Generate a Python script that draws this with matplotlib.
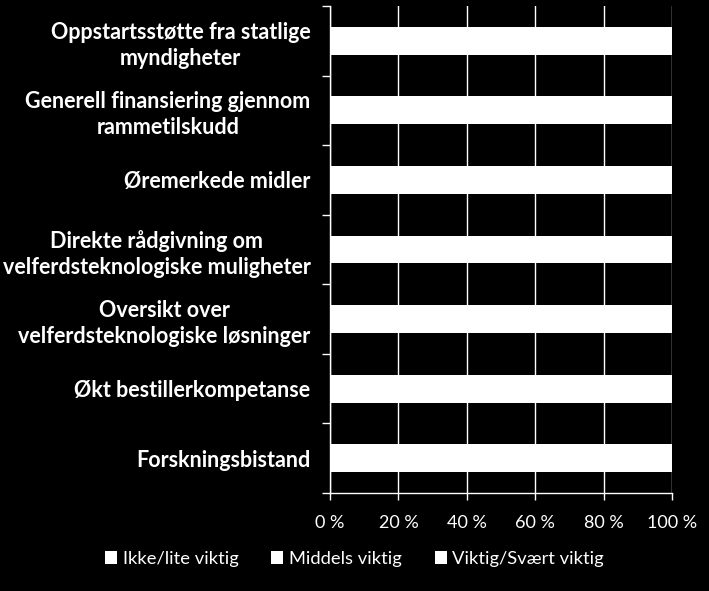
import numpy as np
import matplotlib
matplotlib.use('Agg')
from matplotlib import pyplot as plt
from matplotlib.ticker import MultipleLocator, FuncFormatter

plt.rcParams['font.family'] = ['Lato', 'DejaVu Sans']

categories = [
    'Oppstartsstøtte fra statlige\nmyndigheter',
    'Generell finansiering gjennom\nrammetilskudd',
    'Øremerkede midler',
    'Direkte rådgivning om\nvelferdsteknologiske muligheter',
    'Oversikt over\nvelferdsteknologiske løsninger',
    'Økt bestillerkompetanse',
    'Forskningsbistand',
]
series_names = ['Ikke/lite viktig', 'Middels viktig', 'Viktig/Svært viktig']
# segments are drawn in white on white, so the split is estimated
ikke_lite = [8, 6, 10, 12, 10, 18, 25]
middels = [22, 20, 25, 30, 32, 35, 40]
viktig = [70, 74, 65, 58, 58, 47, 35]
series = [ikke_lite, middels, viktig]
colors = ['white', 'white', 'white']

fig = plt.figure(figsize=(7.09, 5.91), dpi=100, facecolor='black')
ax = fig.add_axes([330 / 709, 1 - 493 / 591, 342 / 709, 487 / 591])
ax.set_facecolor('black')

y = np.arange(len(categories))
left = np.zeros(len(categories))
for vals, name, col in zip(series, series_names, colors):
    ax.barh(y, vals, left=left, height=0.4, color=col, label=name, zorder=3)
    left += np.array(vals)

ax.set_xlim(0, 100)
ax.set_ylim(len(categories) - 0.5, -0.5)
ax.xaxis.set_major_locator(MultipleLocator(20))
ax.xaxis.set_major_formatter(FuncFormatter(lambda v, p: f'{int(v)} %'))
ax.grid(axis='x', color='white', linewidth=1.0, zorder=1)

ax.set_yticks(y)
ax.set_yticklabels(categories, fontweight='bold', fontsize=15.5, color='white',
                   linespacing=1.3)
for t in ax.get_yticklabels():
    t.set_multialignment('center')
ax.tick_params(axis='y', which='major', length=0, pad=14)
ax.set_yticks(np.arange(-0.5, len(categories)), minor=True)
ax.tick_params(axis='y', which='minor', length=6, color='white', width=1)
ax.tick_params(axis='x', length=5, color='white', width=1, labelcolor='white',
               labelsize=13, pad=11)

for s in ['top', 'right']:
    ax.spines[s].set_visible(False)
for s in ['left', 'bottom']:
    ax.spines[s].set_color('white')
    ax.spines[s].set_linewidth(1)

leg = fig.legend(loc='center', bbox_to_anchor=(0.5, 1 - 559 / 591), ncol=3,
                 frameon=False, fontsize=13.2, labelcolor='white',
                 handlelength=0.65, handleheight=0.65, handletextpad=0.3,
                 columnspacing=1.8)

fig.savefig('out.png', facecolor='black')
